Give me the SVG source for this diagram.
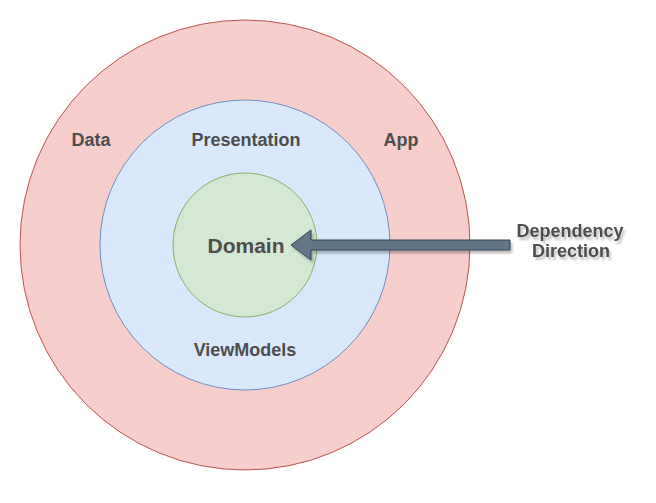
<svg xmlns="http://www.w3.org/2000/svg" width="656" height="503" viewBox="0 0 656 503">
<style>
.lbl{font-family:"Liberation Sans",Arial,sans-serif;font-weight:bold;fill:#4D4D4D;text-anchor:middle;font-size:18px}
</style>
<defs>
<filter id="sh" x="-20%" y="-40%" width="140%" height="180%">
<feGaussianBlur in="SourceAlpha" stdDeviation="1.2"/>
<feOffset dx="2" dy="3" result="b"/>
<feComponentTransfer><feFuncA type="linear" slope="0.25"/></feComponentTransfer>
<feMerge><feMergeNode/><feMergeNode in="SourceGraphic"/></feMerge>
</filter>
</defs>
<rect width="656" height="503" fill="#ffffff"/>
<g id="app">
<circle cx="245" cy="245" r="225" fill="#f8cecc" stroke="#b85450"/>
<text class="lbl" x="401" y="146">App</text>
<text class="lbl" x="91" y="146">Data</text>
</g>
<g id="presentation">
<circle cx="245" cy="245" r="145" fill="#dae8fc" stroke="#6c8ebf"/>
<text class="lbl" x="246" y="146">Presentation</text>
<text class="lbl" x="245" y="356">ViewModels</text>
</g>
<g id="domain">
<circle cx="245" cy="245" r="72" fill="#d5e8d4" stroke="#82b366"/>
<text class="lbl" x="246" y="253" style="font-size:21px">Domain</text>
</g>
<g id="connectors">
<path d="M510,240 L311,240 L311,230 L291,245 L311,260 L311,250 L510,250 Z" fill="#647687" stroke="#314354" filter="url(#sh)"/>
</g>
<g id="dependency-label" filter="url(#sh)">
<text class="lbl" x="570" y="237">Dependency</text>
<text class="lbl" x="571" y="257">Direction</text>
</g>
</svg>
